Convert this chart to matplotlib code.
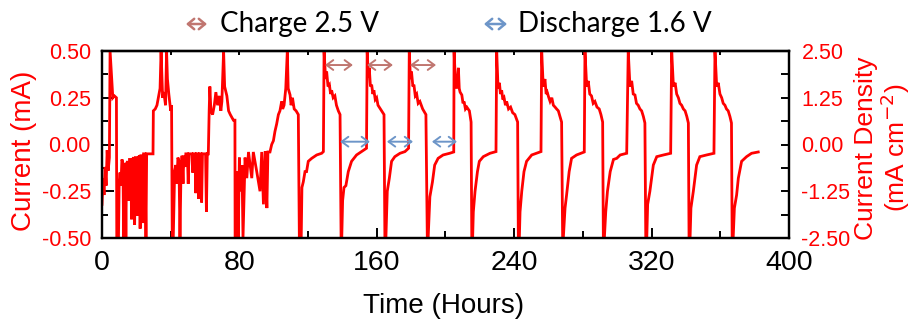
import matplotlib
matplotlib.use("Agg")
import matplotlib.pyplot as plt
from matplotlib.patches import FancyArrowPatch
from matplotlib.ticker import MultipleLocator, FormatStrFormatter

plt.rcParams['axes.unicode_minus'] = False
plt.rcParams['font.family'] = ['Liberation Sans', 'DejaVu Sans']

# ---------------- data: (time in hours, current in mA) per half-cycle ----------------
c00 = [(0, -0.32), (0.6, -0.18), (1.2, -0.27), (1.8, -0.12), (2.4, -0.22), (3.0, -0.03), (3.6, -0.14),
       (4.3, -0.07), (4.7, 0.5), (5.2, 0.42), (5.8, 0.33), (6.3, 0.25), (7.2, 0.26), (8.4, 0.25), (8.6, -0.5)]
d01 = [(9.6, -0.5), (10.0, -0.2), (10.5, -0.15), (11.0, -0.22), (11.6, -0.08), (12.2, -0.1), (12.6, -0.5),
       (13.0, -0.12), (13.5, -0.1), (13.9, -0.5), (14.3, -0.1), (15.0, -0.09), (15.6, -0.3), (16.0, -0.08),
       (16.8, -0.08), (17.2, -0.4), (17.6, -0.08), (18.5, -0.07), (19.0, -0.43), (19.4, -0.07), (20.3, -0.07),
       (20.7, -0.38), (21.1, -0.07), (21.8, -0.06), (22.2, -0.45), (22.6, -0.06), (23.4, -0.06), (23.8, -0.42),
       (24.2, -0.05), (25.0, -0.05), (25.6, -0.5), (26.0, -0.05), (27.0, -0.05), (28.0, -0.05), (29.7, -0.05)]
c01 = [(29.9, 0.18), (31.0, 0.19), (32.0, 0.21), (32.8, 0.25), (33.8, 0.30), (34.4, 0.5), (35.3, 0.25),
       (36.0, 0.28), (37.0, 0.21), (37.6, 0.5), (38.1, 0.35), (38.9, 0.27), (40.0, 0.18), (40.5, 0.21), (40.9, -0.5)]
d02 = [(41.5, -0.5), (42.3, -0.14), (43.0, -0.11), (43.6, -0.21), (44.2, -0.07), (44.8, -0.09), (45.4, -0.5),
       (46.0, -0.14), (46.6, -0.06), (47.2, -0.21), (47.6, -0.06), (48.4, -0.12), (48.8, -0.05), (49.7, -0.05),
       (50.2, -0.21), (50.6, -0.05), (52.3, -0.05), (52.8, -0.15), (53.3, -0.05), (54.2, -0.05), (54.6, -0.26),
       (55.0, -0.05), (55.9, -0.05), (56.3, -0.29), (56.7, -0.05), (57.6, -0.05), (58.0, -0.31), (58.5, -0.05),
       (60.3, -0.05), (60.8, -0.36), (61.3, -0.05), (61.9, -0.05)]
c02 = [(62.4, 0.18), (62.8, 0.31), (63.4, 0.18), (64.4, 0.16), (65.4, 0.21), (66.3, 0.28), (67.3, 0.21),
       (68.3, 0.26), (69.2, 0.18), (69.8, 0.23), (70.8, 0.5), (71.4, 0.31), (72.7, 0.26), (73.7, 0.18),
       (74.7, 0.16), (76.5, 0.13), (77.4, 0.13), (77.5, -0.5)]
d03 = [(78.0, -0.5), (78.2, -0.30), (78.8, -0.145), (79.3, -0.5), (80.0, -0.07), (80.6, -0.25), (81.5, -0.11),
       (82.1, -0.5), (83.3, -0.07), (84.3, -0.18), (85.3, -0.04), (87.2, -0.18), (88.1, -0.04), (90.1, -0.145),
       (92.0, -0.25), (93.0, -0.04), (94.0, -0.32), (95.0, -0.035), (96.0, -0.34), (96.6, -0.04), (97.8, -0.04)]
c03 = [(98.8, 0.0), (99.8, 0.02), (100.7, 0.07), (101.7, 0.11), (102.7, 0.16), (103.6, 0.18), (104.6, 0.23),
       (105.2, 0.19), (106.0, 0.21), (107.0, 0.30), (107.9, 0.5), (108.4, 0.30), (109.5, 0.265), (110.1, 0.21),
       (110.9, 0.25), (111.9, 0.19), (113.0, 0.18), (114.3, 0.16), (114.9, -0.5)]
d04 = [(116.0, -0.5), (116.4, -0.23), (117.2, -0.2), (118.2, -0.145), (119.1, -0.145), (120.1, -0.09),
       (122.1, -0.074), (125.0, -0.056), (127.9, -0.047), (128.9, -0.038)]
c04 = [(129.3, 0.5), (130.2, 0.35), (130.8, 0.39), (131.6, 0.31), (132.4, 0.32), (133.1, 0.27), (133.7, 0.29),
       (134.6, 0.25), (135.6, 0.26), (136.5, 0.21), (137.6, 0.18), (138.6, 0.16), (139.2, -0.5)]
d05 = [(139.6, -0.5), (140.1, -0.3), (140.9, -0.23), (142.0, -0.22), (143.4, -0.145), (145.3, -0.09),
       (148.2, -0.056), (151.1, -0.038), (154.0, -0.02)]
c05 = [(154.4, 0.5), (155.1, 0.36), (155.6, 0.41), (156.3, 0.31), (157.0, 0.32), (157.7, 0.27), (158.3, 0.29),
       (159.1, 0.24), (159.9, 0.25), (160.7, 0.21), (161.4, 0.2), (162.8, 0.18), (164.2, 0.16), (164.7, -0.5)]
d06 = [(165.3, -0.5), (166.1, -0.25), (167.3, -0.18), (168.6, -0.09), (170.5, -0.065), (173.5, -0.047),
       (176.4, -0.038), (178.5, -0.02)]
c06 = [(178.9, 0.5), (179.6, 0.35), (180.2, 0.39), (181.0, 0.31), (181.6, 0.32), (182.4, 0.26), (183.2, 0.27),
       (184.1, 0.22), (185.1, 0.23), (186.7, 0.19), (188.6, 0.16), (189.4, -0.5)]
d07 = [(189.9, -0.5), (190.9, -0.28), (192.4, -0.2), (193.7, -0.11), (195.7, -0.074), (198.6, -0.056),
       (202.4, -0.047), (204.8, -0.04)]
c07 = [(205.0, 0.5), (205.8, 0.33), (206.6, 0.30), (207.5, 0.41), (208.0, 0.30), (208.5, 0.28), (209.5, 0.265),
       (210.2, 0.22), (210.8, 0.23), (211.6, 0.19), (212.4, 0.20), (213.9, 0.18), (214.9, 0.12), (215.3, -0.5)]
d08 = [(215.8, -0.5), (216.2, -0.36), (217.2, -0.25), (218.6, -0.145), (219.7, -0.09), (222.0, -0.065),
       (225.9, -0.047), (229.4, -0.038)]
c08 = [(229.8, 0.5), (230.6, 0.30), (231.4, 0.33), (232.0, 0.27), (232.7, 0.29), (233.4, 0.24), (234.1, 0.25),
       (234.9, 0.21), (235.6, 0.23), (236.7, 0.19), (237.9, 0.20), (239.1, 0.17), (240.4, 0.16), (242.0, 0.12),
       (242.4, -0.5)]
d09 = [(243.0, -0.5), (243.4, -0.36), (244.4, -0.25), (245.7, -0.145), (247.2, -0.09), (250.2, -0.056),
       (255.6, -0.038)]
c09 = [(256.0, 0.5), (256.9, 0.31), (257.9, 0.35), (258.6, 0.27), (259.2, 0.28), (260.0, 0.255), (260.9, 0.23),
       (261.9, 0.25), (262.8, 0.21), (263.8, 0.20), (264.7, 0.19), (265.7, 0.18), (267.0, 0.14), (267.6, 0.12),
       (268.2, -0.5)]
d10 = [(268.6, -0.5), (269.6, -0.34), (270.5, -0.27), (272.0, -0.145), (273.4, -0.074), (276.3, -0.056),
       (280.8, -0.04)]
c10 = [(281.2, 0.5), (282.2, 0.31), (283.1, 0.34), (284.0, 0.27), (285.0, 0.26), (286.0, 0.22), (287.0, 0.23),
       (288.2, 0.20), (289.5, 0.19), (290.5, 0.16), (291.5, 0.12), (291.9, -0.5)]
d11 = [(292.5, -0.5), (293.3, -0.36), (294.3, -0.25), (295.9, -0.145), (297.8, -0.08), (299.7, -0.074),
       (301.7, -0.056), (305.5, -0.047)]
c11 = [(306.4, 0.5), (307.4, 0.31), (308.4, 0.34), (309.3, 0.27), (310.3, 0.265), (311.2, 0.22), (312.2, 0.21),
       (313.2, 0.19), (314.2, 0.18), (315.2, 0.15), (316.1, 0.115), (316.6, -0.5)]
d12 = [(317.2, -0.5), (317.7, -0.32), (319.0, -0.25), (321.0, -0.11), (323.0, -0.065), (326.9, -0.056),
       (331.1, -0.047)]
c12 = [(331.7, 0.5), (332.7, 0.31), (333.7, 0.33), (334.6, 0.27), (335.6, 0.25), (336.5, 0.22), (337.5, 0.21),
       (338.5, 0.19), (339.5, 0.18), (340.5, 0.15), (341.4, 0.115), (341.8, -0.5)]
d13 = [(342.4, -0.5), (342.9, -0.34), (344.3, -0.25), (346.2, -0.11), (348.1, -0.065), (352.0, -0.056),
       (356.3, -0.047)]
c13 = [(356.9, 0.5), (357.9, 0.31), (358.8, 0.33), (359.8, 0.27), (360.8, 0.25), (361.7, 0.22), (362.7, 0.21),
       (363.6, 0.19), (364.6, 0.18), (365.6, 0.15), (366.5, 0.115), (366.9, -0.5)]
d14 = [(367.5, -0.5), (368.2, -0.34), (369.5, -0.27), (370.5, -0.18), (372.4, -0.09), (375.3, -0.065),
       (378.2, -0.047), (382.1, -0.04)]

segments = [c00, d01, c01, d02, c02, d03, c03, d04, c04, d05, c05, d06, c06, d07, c07,
            d08, c08, d09, c09, d10, c10, d11, c11, d12, c12, d13, c13, d14]

# double-arrow annotations (time start, time end, current level)
charge_arrows = [(129.8, 146.1, 0.425), (154.3, 169.4, 0.425), (179.3, 194.5, 0.425)]
discharge_arrows = [(138.6, 156.0, 0.015), (165.9, 181.1, 0.015), (192.1, 206.7, 0.015)]

x_ticks = [0, 80, 160, 240, 320, 400]
left_ticks = [-0.5, -0.25, 0.0, 0.25, 0.5]
right_ticks = [-2.5, -1.25, 0.0, 1.25, 2.5]

# ---------------- figure ----------------
W, H = 915, 329
fig = plt.figure(figsize=(W / 100, H / 100), dpi=100)
ax = fig.add_axes([102 / W, 1 - 238 / H, (789 - 102) / W, (238 - 51) / H])

t_all = [p[0] for seg in segments for p in seg]
i_all = [p[1] for seg in segments for p in seg]
ax.plot(t_all, i_all, color='#ff0000', lw=2.0, solid_joinstyle='miter')

ax.set_xlim(0, 400)
ax.set_ylim(-0.5, 0.5)

brown = '#c07670'
blue = '#6d95c8'
astyle = '<->,head_length=0.3,head_width=0.22'
for (a, b, y) in charge_arrows:
    ax.annotate('', xy=(b, y), xytext=(a, y),
                arrowprops=dict(arrowstyle=astyle, color=brown, lw=1.4, mutation_scale=16,
                                shrinkA=0, shrinkB=0))
for (a, b, y) in discharge_arrows:
    ax.annotate('', xy=(b, y), xytext=(a, y),
                arrowprops=dict(arrowstyle=astyle, color=blue, lw=1.4, mutation_scale=16,
                                shrinkA=0, shrinkB=0))

ax.set_xticks(x_ticks)
ax.xaxis.set_minor_locator(MultipleLocator(40))
ax.set_yticks(left_ticks)
ax.yaxis.set_minor_locator(MultipleLocator(0.125))
ax.yaxis.set_major_formatter(FormatStrFormatter('%.2f'))
ax.tick_params(axis='both', which='both', direction='in', top=False, right=False, width=1.4, color='black')
ax.tick_params(axis='x', which='major', length=7.5)
ax.tick_params(axis='x', which='minor', length=5)
ax.tick_params(axis='y', which='major', length=8.5)
ax.tick_params(axis='y', which='minor', length=4.5)
ax.tick_params(axis='x', labelsize=20.5, labelcolor='black', pad=9)
ax.tick_params(axis='y', labelsize=15.5, labelcolor='#ff0000', pad=8)
for s in ax.spines.values():
    s.set_linewidth(1.6)

top = ax.secondary_xaxis('top')
top.set_xticks([40, 80, 120, 160, 200, 240, 280, 320, 360])
top.tick_params(direction='in', length=3, width=1.4, labeltop=False)
top.spines['top'].set_linewidth(1.6)

ax2 = ax.twinx()
ax2.set_ylim(-2.5, 2.5)
ax2.set_yticks(right_ticks)
ax2.yaxis.set_minor_locator(MultipleLocator(0.625))
ax2.yaxis.set_major_formatter(FormatStrFormatter('%.2f'))
ax2.tick_params(axis='y', which='both', direction='in', width=1.4, length=5.5, labelsize=15.5,
                labelcolor='#ff0000', pad=9)
for s in ax2.spines.values():
    s.set_linewidth(1.6)

# axis labels
fig.text(24 / W, 1 - 151 / H, 'Current (mA)', rotation=90, ha='center', va='center',
         color='#ff0000', fontsize=20)
fig.text(444 / W, 1 - 306 / H, 'Time (Hours)', ha='center', va='center',
         color='black', fontsize=20)
fig.text(883 / W, 1 - 148 / H, 'Current Density\n(mA cm$^{-2}$)', rotation=90, ha='center', va='center',
         color='#ff0000', fontsize=19, multialignment='center', linespacing=1.05)

# header (legend-like)
ly = 1 - 24 / H
hstyle = '<->,head_length=0.3,head_width=0.25'
fig.add_artist(FancyArrowPatch((186 / W, ly), (207 / W, ly), transform=fig.transFigure,
                               arrowstyle=hstyle, color=brown, lw=1.8,
                               mutation_scale=15, shrinkA=0, shrinkB=0))
fig.text(220 / W, ly, 'Charge 2.5 V', ha='left', va='center', fontsize=20, fontfamily='Lato', color='black')
fig.add_artist(FancyArrowPatch((484 / W, ly), (507 / W, ly), transform=fig.transFigure,
                               arrowstyle=hstyle, color=blue, lw=1.8,
                               mutation_scale=15, shrinkA=0, shrinkB=0))
fig.text(518 / W, ly, 'Discharge 1.6 V', ha='left', va='center', fontsize=20, fontfamily='Lato', color='black')

fig.savefig('out.png', dpi=100)
